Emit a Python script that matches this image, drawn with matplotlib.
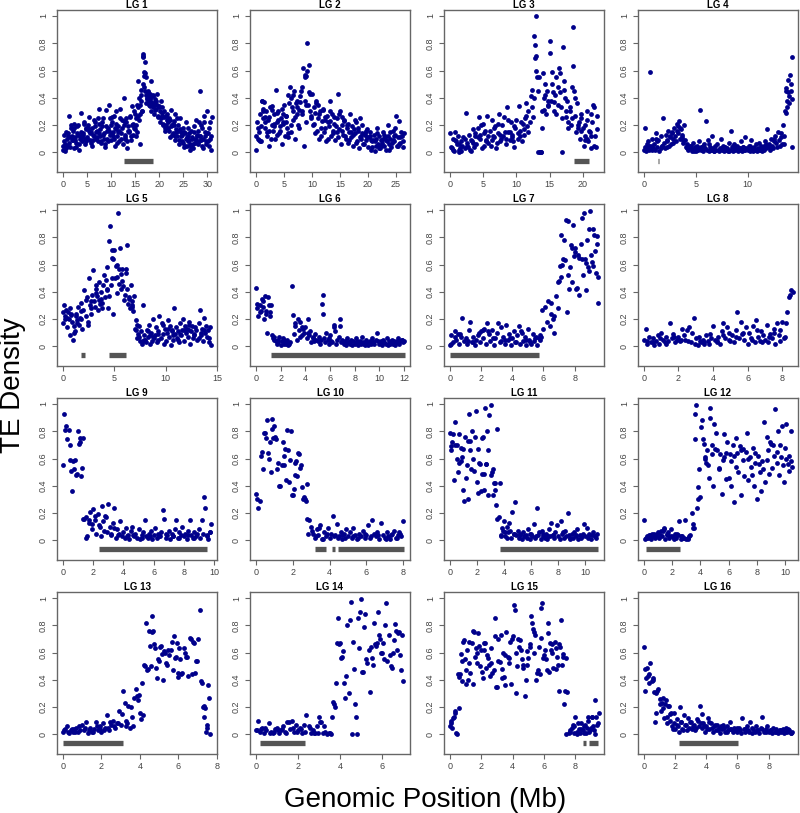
import matplotlib
matplotlib.use('Agg')
import matplotlib.pyplot as plt

plt.rcParams['font.family'] = ['Liberation Sans', 'DejaVu Sans']

# ---------------- data: window position (Mb) and TE density ----------------
lg1_pos = [0.0,0.2,0.4,0.6,0.8,1.0,1.2,1.4,1.6,1.8,
           2.0,2.2,2.4,2.6,2.8,3.0,3.2,3.4,3.6,3.8,
           4.0,4.2,4.4,4.6,4.8,5.0,5.2,5.4,5.6,5.8,
           6.0,6.2,6.4,6.6,6.8,7.0,7.2,7.4,7.6,7.8,
           8.0,8.2,8.4,8.6,8.8,9.0,9.2,9.4,9.6,9.8,
           10.0,10.2,10.4,10.6,10.8,11.0,11.2,11.4,11.6,11.8,
           12.0,12.2,12.4,12.6,12.8,13.0,13.2,13.4,13.6,13.8,
           14.0,14.2,14.4,14.6,14.8,15.0,15.2,15.4,15.6,15.8,
           16.0,16.2,16.4,16.6,16.8,17.0,17.2,17.4,17.6,17.8,
           18.0,18.2,18.4,18.6,18.8,19.0,19.2,19.4,19.6,19.8,
           20.0,20.2,20.4,20.6,20.8,21.0,21.2,21.4,21.6,21.8,
           22.0,22.2,22.4,22.6,22.8,23.0,23.2,23.4,23.6,23.8,
           24.0,24.2,24.4,24.6,24.8,25.0,25.2,25.4,25.6,25.8,
           26.0,26.2,26.4,26.6,26.8,27.0,27.2,27.4,27.6,27.8,
           28.0,28.2,28.4,28.6,28.8,29.0,29.2,29.4,29.6,29.8,
           30.0,30.2,30.4,30.6,30.8,
           16.6,16.7,16.9,17.1,17.3,16.5,17.5,17.7,18.1,18.3,
           18.7,19.1,19.5,15.7,16.1,16.3,12.9,13.5,14.5,15.1,
           10.5,11.1,8.5,6.5,4.5,2.5,0.5,1.5,3.5,5.5,
           7.5,9.5,11.5,20.5,21.5,22.5,23.5,24.5,25.5,26.5,
           27.5,28.5,29.5,30.5,
           0.1,0.3,0.7,0.9,1.1,1.3,1.7,1.9,
           2.1,2.3,2.7,2.9,3.1,3.3,3.7,3.9,
           4.1,4.3,4.7,4.9,5.1,5.3,5.7,5.9,
           6.1,6.3,6.7,6.9,7.1,7.3,7.7,7.9,
           8.1,8.3,8.7,8.9,9.1,9.3,9.7,9.9,
           10.1,10.3,10.7,10.9,11.1,11.3,11.7,11.9,
           12.1,12.3,12.7,12.9,13.1,13.3,13.7,13.9,
           14.1,14.3,14.7,14.9,15.1,15.3,15.7,15.9,
           16.1,16.3,16.7,16.9,17.1,17.3,17.7,17.9,
           18.1,18.3,18.7,18.9,19.1,19.3,19.7,19.9,
           20.1,20.3,20.7,20.9,21.1,21.3,21.7,21.9,
           22.1,22.3,22.7,22.9,23.1,23.3,23.7,23.9,
           24.1,24.3,24.7,24.9,25.1,25.3,25.7,25.9,
           26.1,26.3,26.7,26.9,27.1,27.3,27.7,27.9,
           28.1,28.3,28.7,28.9,29.1,29.3,29.7,29.9,
           30.1,30.3,30.7,30.9]
lg1_te = [.02,.08,.01,.15,.05,.12,.27,.04,.18,.09,
          .16,.03,.21,.11,.07,.19,.13,.02,.10,.29,
          .08,.14,.21,.06,.17,.11,.18,.26,.09,.15,
          .05,.13,.24,.19,.10,.16,.08,.32,.21,.12,
          .07,.19,.25,.14,.04,.31,.10,.18,.35,.13,
          .09,.22,.15,.27,.05,.30,.12,.19,.08,.32,
          .14,.24,.06,.20,.40,.11,.25,.03,.19,.15,
          .26,.09,.34,.21,.18,.28,.12,.35,.52,.24,
          .06,.46,.30,.72,.59,.66,.55,.40,.45,.38,
          .43,.34,.52,.36,.41,.28,.37,.32,.43,.26,
          .34,.22,.38,.29,.21,.30,.16,.27,.24,.18,
          .25,.11,.31,.20,.14,.23,.09,.28,.17,.12,
          .20,.06,.25,.15,.08,.18,.04,.14,.22,.05,
          .12,.09,.02,.16,.11,.03,.19,.07,.24,.13,
          .06,.22,.12,.45,.09,.18,.03,.27,.12,.08,
          .30,.14,.05,.22,.02,
          .71,.70,.56,.58,.42,.30,.39,.44,.40,.37,
          .33,.39,.35,.27,.35,.42,.10,.16,.13,.20,
          .12,.17,.10,.12,.10,.09,.06,.11,.12,.16,
          .14,.16,.15,.27,.20,.19,.15,.12,.10,.06,
          .10,.12,.15,.10,
          .05,.13,.03,.10,.14,.07,.20,.12,
          .09,.18,.04,.14,.20,.06,.15,.11,
          .13,.22,.08,.18,.10,.20,.14,.07,
          .18,.09,.22,.15,.11,.25,.17,.08,
          .22,.13,.06,.19,.16,.08,.25,.20,
          .14,.26,.10,.18,.21,.07,.16,.25,
          .10,.18,.23,.13,.22,.08,.16,.27,
          .12,.20,.30,.17,.25,.15,.33,.40,
          .28,.38,.50,.48,.45,.36,.41,.35,
          .39,.30,.42,.35,.31,.38,.27,.33,
          .30,.25,.33,.20,.26,.18,.28,.22,
          .16,.24,.13,.21,.20,.12,.25,.16,
          .09,.17,.13,.07,.15,.05,.11,.18,
          .08,.14,.04,.10,.06,.15,.09,.12,
          .16,.08,.20,.05,.10,.22,.06,.14,
          .08,.18,.12,.26]

lg2_pos = [0.0,0.2,0.4,0.6,0.8,1.0,1.2,1.4,1.6,1.8,
           2.0,2.2,2.4,2.6,2.8,3.0,3.2,3.4,3.6,3.8,
           4.0,4.2,4.4,4.6,4.8,5.0,5.2,5.4,5.6,5.8,
           6.0,6.2,6.4,6.6,6.8,7.0,7.2,7.4,7.6,7.8,
           8.0,8.2,8.4,8.6,8.8,9.0,9.2,9.4,9.6,9.8,
           10.0,10.2,10.4,10.6,10.8,11.0,11.2,11.4,11.6,11.8,
           12.0,12.2,12.4,12.6,12.8,13.0,13.2,13.4,13.6,13.8,
           14.0,14.2,14.4,14.6,14.8,15.0,15.2,15.4,15.6,15.8,
           16.0,16.2,16.4,16.6,16.8,17.0,17.2,17.4,17.6,17.8,
           18.0,18.2,18.4,18.6,18.8,19.0,19.2,19.4,19.6,19.8,
           20.0,20.2,20.4,20.6,20.8,21.0,21.2,21.4,21.6,21.8,
           22.0,22.2,22.4,22.6,22.8,23.0,23.2,23.4,23.6,23.8,
           24.0,24.2,24.4,24.6,24.8,25.0,25.2,25.4,25.6,25.8,
           26.0,26.2,26.4,
           0.1,0.5,0.9,1.1,1.3,1.7,2.3,2.9,3.3,4.3,
           4.9,5.3,6.3,6.7,7.3,7.7,8.3,8.7,8.9,9.1,
           9.5,10.5,11.1,12.3,13.3,14.5,15.3,16.5,17.5,18.5,
           19.5,20.5,21.5,22.5,23.5,24.5,25.5,26.3,3.7,5.7,
           0.3,0.7,0.9,1.3,1.7,1.9,2.3,2.7,2.9,3.3,3.7,3.9,
           4.3,4.7,4.9,5.3,5.7,5.9,6.3,6.7,6.9,7.3,7.7,7.9,
           8.3,8.7,8.9,9.3,9.7,9.9,10.3,10.7,10.9,11.3,11.7,11.9,
           12.3,12.7,12.9,13.3,13.7,13.9,14.3,14.7,14.9,15.3,15.7,15.9,
           16.3,16.7,16.9,17.3,17.7,17.9,18.3,18.7,18.9,19.3,19.7,19.9,
           20.3,20.7,20.9,21.3,21.7,21.9,22.3,22.7,22.9,23.3,23.7,23.9,
           24.3,24.7,24.9,25.3,25.7,25.9]
lg2_te = [.02,.22,.10,.15,.08,.38,.25,.37,.18,.30,
          .12,.24,.05,.33,.20,.16,.28,.10,.46,.22,
          .30,.14,.25,.06,.21,.35,.12,.27,.18,.42,
          .48,.15,.33,.24,.45,.10,.36,.28,.20,.37,
          .45,.30,.62,.05,.55,.35,.80,.64,.43,.27,
          .43,.20,.33,.14,.38,.25,.10,.30,.18,.23,
          .32,.15,.26,.08,.22,.19,.38,.12,.28,.16,
          .21,.09,.25,.43,.17,.30,.06,.20,.13,.24,
          .10,.18,.07,.15,.28,.11,.19,.05,.14,.22,
          .08,.16,.03,.25,.12,.20,.06,.14,.09,.17,
          .04,.11,.15,.02,.08,.13,.01,.10,.18,.06,
          .12,.03,.09,.15,.05,.11,.02,.08,.20,.06,
          .10,.04,.16,.08,.13,.27,.05,.11,.23,.07,
          .12,.04,.14,
          .12,.09,.19,.38,.32,.26,.16,.31,.21,.19,
          .28,.22,.40,.30,.38,.31,.48,.57,.56,.60,
          .44,.29,.35,.24,.30,.15,.26,.21,.17,.11,
          .13,.09,.05,.07,.12,.09,.06,.08,.13,.11,
          .18,.28,.08,.30,.22,.15,.26,.10,.34,.19,.29,.24,
          .16,.32,.22,.27,.14,.36,.20,.42,.26,.33,.18,.41,
          .28,.38,.22,.35,.30,.25,.21,.36,.16,.28,.12,.31,
          .18,.27,.10,.23,.14,.26,.19,.11,.28,.16,.23,.12,
          .20,.09,.15,.13,.24,.07,.18,.10,.14,.06,.16,.11,
          .12,.04,.09,.08,.14,.03,.05,.10,.13,.09,.02,.15,
          .07,.12,.18,.05,.11,.15]

lg3_pos = [0.0,0.2,0.4,0.6,0.8,1.0,1.2,1.4,1.6,1.8,
           2.0,2.2,2.4,2.6,2.8,3.0,3.2,3.4,3.6,3.8,
           4.0,4.2,4.4,4.6,4.8,5.0,5.2,5.4,5.6,5.8,
           6.0,6.2,6.4,6.6,6.8,7.0,7.2,7.4,7.6,7.8,
           8.0,8.2,8.4,8.6,8.8,9.0,9.2,9.4,9.6,9.8,
           10.0,10.2,10.4,10.6,10.8,11.0,11.2,11.4,11.6,11.8,
           12.0,12.2,12.4,12.6,12.8,13.0,13.2,13.4,13.6,13.8,
           14.0,14.2,14.4,14.6,14.8,15.0,15.2,15.4,15.6,15.8,
           16.0,16.2,16.4,16.6,16.8,17.0,17.2,17.4,17.6,17.8,
           18.0,18.2,18.4,18.6,18.8,19.0,19.2,19.4,19.6,19.8,
           20.0,20.2,20.4,20.6,20.8,21.0,21.2,21.4,21.6,21.8,
           22.0,22.2,
           0.5,0.9,1.3,1.5,2.5,3.1,3.5,4.5,5.1,5.5,
           6.5,7.1,7.5,8.5,9.1,9.5,10.5,11.1,11.5,12.5,
           12.8,12.9,13.0,13.1,13.5,13.7,13.9,14.1,14.3,14.7,
           15.1,15.5,15.9,16.5,16.9,17.1,17.5,18.1,18.5,18.9,
           19.3,19.7,20.3,20.7,21.1,21.3,21.7,22.1,
           0.3,0.7,1.3,1.7,2.3,2.7,3.3,3.7,4.3,4.7,
           5.3,5.7,6.3,6.7,7.3,7.7,8.3,8.7,9.3,9.7,
           10.3,10.7,11.3,11.7,12.3,12.7,13.3,13.7,14.3,14.7,
           15.3,15.7,16.3,16.7,17.3,17.7,18.3,18.7,19.3,19.7,
           20.3,20.7,21.3,21.7]
lg3_te = [.14,.04,.10,.01,.15,.06,.12,.02,.08,.05,
          .11,.03,.29,.07,.13,.02,.09,.17,.04,.12,
          .06,.18,.26,.10,.03,.21,.14,.08,.27,.12,
          .16,.05,.24,.11,.19,.03,.14,.28,.08,.20,
          .12,.26,.06,.33,.15,.09,.22,.13,.04,.18,
          .24,.10,.34,.16,.08,.21,.13,.27,.19,.30,
          .22,.41,.46,.85,.69,1.0,.00,.55,.00,.30,
          .58,.40,.28,.45,.34,.82,.38,.50,.30,.42,
          .55,.35,.62,.44,.25,.77,.46,.30,.38,.18,
          .33,.20,.48,.92,.27,.15,.36,.22,.10,.25,
          .18,.05,.12,.30,.08,.16,.03,.22,.35,.12,
          .04,.27,
          .02,.08,.00,.03,.05,.01,.07,.13,.05,.09,
          .12,.07,.13,.10,.15,.08,.12,.17,.36,.26,
          .79,.60,.71,.55,.00,.00,.18,.31,.50,.38,
          .73,.44,.28,.58,.00,.52,.26,.30,.63,.40,
          .20,.16,.20,.10,.15,.28,.05,.17,
          .03,.09,.06,.01,.10,.04,.08,.14,.11,.20,
          .16,.07,.09,.18,.21,.10,.15,.24,.11,.19,
          .14,.22,.25,.15,.33,.40,.45,.00,.42,.35,
          .59,.37,.48,.33,.40,.22,.25,.45,.18,.28,
          .09,.24,.12,.33]

lg4_pos = [0.0,0.1,0.2,0.3,0.4,0.5,0.6,0.7,0.8,0.9,
           1.0,1.1,1.2,1.3,1.4,1.5,1.6,1.7,1.8,1.9,
           2.0,2.1,2.2,2.3,2.4,2.5,2.6,2.7,2.8,2.9,
           3.0,3.1,3.2,3.3,3.4,3.5,3.6,3.7,3.8,3.9,
           4.0,4.1,4.2,4.3,4.4,4.5,4.6,4.7,4.8,4.9,
           5.0,5.1,5.2,5.3,5.4,5.5,5.6,5.7,5.8,5.9,
           6.0,6.1,6.2,6.3,6.4,6.5,6.6,6.7,6.8,6.9,
           7.0,7.1,7.2,7.3,7.4,7.5,7.6,7.7,7.8,7.9,
           8.0,8.1,8.2,8.3,8.4,8.5,8.6,8.7,8.8,8.9,
           9.0,9.1,9.2,9.3,9.4,9.5,9.6,9.7,9.8,9.9,
           10.0,10.1,10.2,10.3,10.4,10.5,10.6,10.7,10.8,10.9,
           11.0,11.1,11.2,11.3,11.4,11.5,11.6,11.7,11.8,11.9,
           12.0,12.1,12.2,12.3,12.4,12.5,12.6,12.7,12.8,12.9,
           13.0,13.1,13.2,13.3,13.4,13.5,13.6,13.7,13.8,13.9,
           14.0,14.1,14.2,14.3,
           0.15,0.45,0.75,1.15,1.65,2.25,2.55,2.85,3.15,3.45,
           3.65,4.15,4.55,13.75,13.85,13.95,14.05,14.15,14.25,14.3,
           13.55,12.55,11.55,10.55,9.55,8.55,7.55,6.55,5.55,4.85,
           0.25,0.75,1.25,1.75,2.25,2.75,3.25,3.75,4.25,4.75,
           5.25,5.75,6.25,6.75,7.25,7.75,8.25,8.75,9.25,9.75,
           10.25,10.75,11.25,11.75,12.25,12.75,13.25,13.75]
lg4_te = [.02,.18,.01,.03,.08,.02,.59,.05,.10,.03,
          .06,.02,.14,.04,.09,.01,.12,.05,.25,.07,
          .03,.13,.08,.16,.05,.11,.06,.14,.10,.18,
          .12,.08,.21,.14,.23,.10,.17,.13,.07,.20,
          .09,.04,.06,.02,.05,.03,.01,.07,.02,.04,
          .01,.05,.03,.08,.31,.02,.04,.01,.06,.03,
          .23,.02,.09,.01,.04,.02,.12,.03,.01,.05,
          .02,.06,.01,.03,.10,.02,.05,.01,.04,.02,
          .03,.01,.07,.02,.16,.04,.01,.06,.02,.03,
          .05,.01,.03,.02,.08,.01,.04,.02,.11,.03,
          .02,.05,.01,.09,.03,.01,.04,.02,.06,.01,
          .03,.07,.02,.05,.01,.04,.02,.08,.03,.17,
          .04,.06,.02,.10,.05,.03,.08,.12,.04,.15,
          .09,.05,.14,.06,.20,.12,.30,.47,.38,.53,
          .36,.57,.45,.70,
          .04,.05,.02,.10,.03,.04,.12,.07,.16,.18,
          .11,.03,.05,.29,.33,.44,.41,.50,.39,.04,
          .06,.10,.05,.03,.04,.05,.03,.02,.04,.01,
          .06,.04,.08,.05,.09,.15,.19,.09,.03,.02,
          .02,.05,.06,.01,.02,.04,.01,.03,.03,.02,
          .05,.02,.02,.06,.03,.07,.11,.45]

lg5_pos = [0.0,0.1,0.2,0.3,0.4,0.5,0.6,0.7,0.8,0.9,
           1.0,1.1,1.2,1.3,1.4,1.5,1.6,1.7,1.8,1.9,
           2.0,2.1,2.2,2.3,2.4,2.5,2.6,2.7,2.8,2.9,
           3.0,3.1,3.2,3.3,3.4,3.5,3.6,3.7,3.8,3.9,
           4.0,4.1,4.2,4.3,4.4,4.5,4.6,4.7,4.8,4.9,
           5.0,5.1,5.2,5.3,5.4,5.5,5.6,5.7,5.8,5.9,
           6.0,6.1,6.2,6.3,6.4,6.5,6.6,6.7,6.8,6.9,
           7.0,7.1,7.2,7.3,7.4,7.5,7.6,7.7,7.8,7.9,
           8.0,8.1,8.2,8.3,8.4,8.5,8.6,8.7,8.8,8.9,
           9.0,9.1,9.2,9.3,9.4,9.5,9.6,9.7,9.8,9.9,
           10.0,10.1,10.2,10.3,10.4,10.5,10.6,10.7,10.8,10.9,
           11.0,11.1,11.2,11.3,11.4,11.5,11.6,11.7,11.8,11.9,
           12.0,12.1,12.2,12.3,12.4,12.5,12.6,12.7,12.8,12.9,
           13.0,13.1,13.2,13.3,13.4,13.5,13.6,13.7,13.8,13.9,
           14.0,14.1,14.2,14.3,14.4,
           0.05,0.35,0.65,1.05,1.35,1.75,2.45,2.75,3.25,3.55,
           3.85,4.25,4.45,4.75,4.85,5.25,5.45,5.65,5.85,6.15,
           6.45,6.75,7.15,7.45,7.85,8.45,9.25,10.65,11.35,12.25,
           13.45,14.25,
           0.25,0.75,1.25,1.75,2.25,2.75,3.25,3.75,4.25,4.75,
           5.25,5.75,6.25,6.75,7.25,7.75,8.25,8.75,9.25,9.75,
           10.25,10.75,11.25,11.75,12.25,12.75,13.25,13.75]
lg5_te = [.17,.30,.22,.27,.14,.25,.20,.08,.23,.18,
          .05,.15,.11,.24,.19,.29,.16,.21,.32,.13,
          .27,.41,.22,.36,.18,.50,.30,.24,.38,.56,
          .33,.29,.42,.37,.27,.47,.31,.40,.28,.45,
          .52,.36,.49,.58,.28,.77,.88,.45,.65,.24,
          .71,.50,.59,.39,.98,.46,.72,.42,.57,.34,
          .38,.54,.74,.31,.36,.28,.45,.33,.26,.37,
          .13,.19,.06,.09,.15,.04,.11,.02,.30,.08,
          .05,.03,.12,.07,.16,.02,.10,.04,.20,.06,
          .08,.14,.03,.11,.22,.06,.17,.09,.02,.13,
          .04,.10,.19,.07,.15,.01,.12,.05,.28,.09,
          .14,.06,.11,.03,.17,.08,.12,.20,.04,.15,
          .10,.13,.07,.18,.02,.11,.15,.06,.09,.14,
          .12,.05,.17,.27,.08,.13,.04,.21,.10,.15,
          .07,.12,.03,.14,.01,
          .25,.21,.28,.10,.17,.20,.16,.33,.39,.34,
          .32,.42,.37,.71,.64,.51,.57,.53,.44,.57,
          .35,.30,.12,.07,.05,.08,.09,.11,.09,.12,
          .10,.06,
          .20,.24,.22,.26,.34,.28,.45,.35,.41,.50,
          .60,.48,.42,.29,.16,.04,.11,.07,.05,.16,
          .13,.08,.05,.12,.16,.08,.06,.12]

lg6_pos = [0.0,0.1,0.2,0.3,0.4,0.5,0.6,0.7,0.8,0.9,
           1.0,1.1,1.2,1.3,1.4,1.5,1.6,1.7,1.8,1.9,
           2.0,2.1,2.2,2.3,2.4,2.5,2.6,2.7,2.8,2.9,
           3.0,3.1,3.2,3.3,3.4,3.5,3.6,3.7,3.8,3.9,
           4.0,4.1,4.2,4.3,4.4,4.5,4.6,4.7,4.8,4.9,
           5.0,5.1,5.2,5.3,5.4,5.5,5.6,5.7,5.8,5.9,
           6.0,6.1,6.2,6.3,6.4,6.5,6.6,6.7,6.8,6.9,
           7.0,7.1,7.2,7.3,7.4,7.5,7.6,7.7,7.8,7.9,
           8.0,8.1,8.2,8.3,8.4,8.5,8.6,8.7,8.8,8.9,
           9.0,9.1,9.2,9.3,9.4,9.5,9.6,9.7,9.8,9.9,
           10.0,10.1,10.2,10.3,10.4,10.5,10.6,10.7,10.8,10.9,
           11.0,11.1,11.2,11.3,11.4,11.5,11.6,11.7,11.8,11.9,
           12.0,
           0.05,0.35,0.55,0.65,0.85,1.05,1.15,1.45,1.75,2.25,
           2.45,3.15,3.55,3.75,4.25,4.65,5.35,5.45,5.95,6.35,
           6.85,7.45,8.15,8.75,9.45,10.25,10.85,11.45,11.85]
lg6_te = [.43,.28,.22,.30,.26,.35,.29,.37,.24,.10,
          .36,.22,.30,.08,.06,.07,.04,.02,.05,.07,
          .01,.04,.06,.02,.03,.05,.01,.02,.03,.44,
          .23,.09,.15,.05,.20,.12,.18,.08,.13,.10,
          .14,.06,.20,.08,.11,.03,.06,.04,.09,.05,
          .04,.07,.02,.05,.38,.06,.03,.10,.05,.02,
          .08,.04,.03,.16,.11,.02,.05,.07,.20,.03,
          .05,.02,.04,.01,.06,.03,.02,.05,.01,.04,
          .02,.06,.03,.01,.04,.02,.07,.03,.01,.05,
          .03,.01,.04,.02,.06,.03,.02,.05,.10,.04,
          .02,.04,.01,.05,.03,.02,.06,.01,.04,.03,
          .05,.02,.04,.01,.03,.06,.02,.04,.05,.03,
          .04,
          .31,.25,.33,.20,.26,.30,.25,.05,.03,.05,
          .02,.17,.07,.14,.10,.07,.31,.24,.06,.14,
          .15,.03,.04,.02,.03,.03,.02,.04,.05]

lg7_pos = [0.0,0.1,0.2,0.3,0.4,0.5,0.6,0.7,0.8,0.9,
           1.0,1.1,1.2,1.3,1.4,1.5,1.6,1.7,1.8,1.9,
           2.0,2.1,2.2,2.3,2.4,2.5,2.6,2.7,2.8,2.9,
           3.0,3.1,3.2,3.3,3.4,3.5,3.6,3.7,3.8,3.9,
           4.0,4.1,4.2,4.3,4.4,4.5,4.6,4.7,4.8,4.9,
           5.0,5.1,5.2,5.3,5.4,5.5,5.6,5.7,5.8,5.9,
           6.0,6.1,6.2,6.3,6.4,6.5,6.6,6.7,6.8,6.9,
           7.0,7.1,7.2,7.3,7.4,7.5,7.6,7.7,7.8,7.9,
           8.0,8.1,8.2,8.3,8.4,8.5,8.6,8.7,8.8,8.9,
           9.0,9.1,9.2,9.3,9.4,9.5,
           0.05,0.35,0.65,1.15,1.45,1.85,2.15,2.45,2.75,3.25,
           3.55,3.85,4.25,4.55,4.85,5.15,5.45,5.75,5.85,6.45,
           6.65,6.95,7.05,7.15,7.25,7.45,7.55,7.65,7.75,7.85,
           7.95,8.05,8.15,8.25,8.45,8.55,8.65,8.75,8.85,8.95,
           9.05,9.15,9.25,9.35,9.45,9.5]
lg7_te = [.01,.08,.03,.11,.05,.09,.02,.07,.21,.04,
          .06,.02,.12,.18,.03,.07,.01,.05,.08,.03,
          .11,.06,.13,.02,.17,.09,.04,.12,.01,.06,
          .10,.17,.03,.14,.07,.02,.16,.05,.09,.01,
          .06,.11,.03,.08,.15,.02,.10,.04,.07,.01,
          .13,.05,.02,.09,.04,.07,.01,.06,.08,.27,
          .13,.29,.18,.33,.15,.24,.20,.10,.37,.28,
          .48,.82,.60,.78,.63,.25,.92,.58,.47,.89,
          .72,.42,.67,.38,.75,.64,.98,.41,.78,.55,
          .99,.62,.86,.70,.81,.32,
          .02,.07,.09,.04,.03,.10,.12,.11,.06,.04,
          .05,.06,.03,.11,.05,.03,.06,.05,.07,.32,
          .22,.47,.59,.51,.64,.93,.52,.42,.74,.72,
          .66,.69,.43,.65,.94,.52,.64,.61,.58,.86,
          .67,.59,.82,.54,.75,.51]

lg8_pos = [0.0,0.1,0.2,0.3,0.4,0.5,0.6,0.7,0.8,0.9,
           1.0,1.1,1.2,1.3,1.4,1.5,1.6,1.7,1.8,1.9,
           2.0,2.1,2.2,2.3,2.4,2.5,2.6,2.7,2.8,2.9,
           3.0,3.1,3.2,3.3,3.4,3.5,3.6,3.7,3.8,3.9,
           4.0,4.1,4.2,4.3,4.4,4.5,4.6,4.7,4.8,4.9,
           5.0,5.1,5.2,5.3,5.4,5.5,5.6,5.7,5.8,5.9,
           6.0,6.1,6.2,6.3,6.4,6.5,6.6,6.7,6.8,6.9,
           7.0,7.1,7.2,7.3,7.4,7.5,7.6,7.7,7.8,7.9,
           8.0,8.1,8.2,8.3,8.4,8.5,8.6,
           0.15,0.55,0.95,1.25,1.75,2.15,2.55,2.95,3.25,3.45,
           3.75,4.25,4.55,4.95,5.35,5.75,6.25,6.55,6.85,7.25,
           7.55,7.85,8.15,8.45]
lg8_te = [.05,.13,.02,.07,.03,.06,.01,.04,.08,.02,
          .10,.05,.03,.07,.04,.17,.06,.09,.03,.05,
          .07,.04,.13,.08,.05,.12,.14,.03,.10,.21,
          .06,.01,.07,.03,.05,.02,.08,.04,.09,.06,
          .15,.05,.03,.07,.02,.11,.17,.06,.14,.10,
          .04,.08,.03,.12,.25,.06,.18,.09,.05,.14,
          .02,.10,.06,.15,.03,.19,.07,.04,.11,.08,
          .05,.16,.03,.09,.06,.13,.02,.17,.08,.04,
          .18,.06,.17,.25,.36,.41,.40,
          .04,.03,.06,.02,.07,.05,.04,.02,.04,.03,
          .02,.04,.08,.05,.07,.10,.05,.12,.03,.07,
          .10,.12,.07,.38]

lg9_pos = [0.0,0.1,0.2,0.3,0.4,0.5,0.6,0.7,0.8,0.9,
           1.0,1.1,1.2,1.3,1.4,1.5,1.6,1.7,1.8,1.9,
           2.0,2.1,2.2,2.3,2.4,2.5,2.6,2.7,2.8,2.9,
           3.0,3.1,3.2,3.3,3.4,3.5,3.6,3.7,3.8,3.9,
           4.0,4.1,4.2,4.3,4.4,4.5,4.6,4.7,4.8,4.9,
           5.0,5.1,5.2,5.3,5.4,5.5,5.6,5.7,5.8,5.9,
           6.0,6.1,6.2,6.3,6.4,6.5,6.6,6.7,6.8,6.9,
           7.0,7.1,7.2,7.3,7.4,7.5,7.6,7.7,7.8,7.9,
           8.0,8.1,8.2,8.3,8.4,8.5,8.6,8.7,8.8,8.9,
           9.0,9.1,9.2,9.3,9.4,9.5,9.6,9.7,9.8,
           0.15,0.45,0.55,0.65,0.85,1.05,1.15,1.25,1.35,1.55,
           1.75,1.95,2.15,2.45,2.65,2.85,3.15,3.35,3.65,4.25,
           4.65,5.25,5.75,6.35,6.85,7.25,7.65,8.25,8.65,9.25,
           9.55,9.75]
lg9_te = [.55,.93,.84,.74,.81,.70,.36,.52,.59,.49,
          .80,.72,.47,.75,.16,.17,.03,.13,.21,.08,
          .23,.15,.05,.19,.11,.03,.25,.07,.18,.06,
          .27,.10,.04,.13,.24,.02,.08,.05,.14,.03,
          .06,.02,.09,.04,.01,.07,.10,.03,.05,.02,
          .08,.01,.04,.06,.15,.03,.02,.05,.07,.01,
          .04,.09,.02,.05,.03,.06,.22,.16,.02,.04,
          .07,.01,.05,.03,.08,.15,.02,.06,.04,.10,
          .03,.05,.01,.07,.15,.04,.02,.06,.03,.05,
          .08,.02,.15,.32,.24,.04,.01,.06,.12,
          .81,.59,.51,.58,.48,.71,.75,.53,.16,.02,
          .15,.12,.18,.10,.14,.17,.05,.09,.04,.03,
          .04,.02,.03,.03,.05,.03,.02,.04,.02,.05,
          .03,.06]

lg10_pos = [0.0,0.1,0.2,0.3,0.4,0.5,0.6,0.7,0.8,0.9,
            1.0,1.1,1.2,1.3,1.4,1.5,1.6,1.7,1.8,1.9,
            2.0,2.1,2.2,2.3,2.4,2.5,2.6,2.7,2.8,2.9,
            3.0,3.1,3.2,3.3,3.4,3.5,3.6,3.7,3.8,3.9,
            4.0,4.1,4.2,4.3,4.4,4.5,4.6,4.7,4.8,4.9,
            5.0,5.1,5.2,5.3,5.4,5.5,5.6,5.7,5.8,5.9,
            6.0,6.1,6.2,6.3,6.4,6.5,6.6,6.7,6.8,6.9,
            7.0,7.1,7.2,7.3,7.4,7.5,7.6,7.7,7.8,7.9,
            8.0,
            0.05,0.35,0.45,0.55,0.65,0.75,0.85,0.95,1.05,1.15,
            1.25,1.45,1.55,1.65,1.75,1.85,1.95,2.05,2.15,2.25,
            2.35,2.45,2.55,2.65,2.75,2.85,3.05,3.25,3.45,3.65,
            3.85,4.25,4.45,4.65,4.85,5.25,5.55,5.95,6.25,6.65,
            7.05,7.35,7.65,7.85]
lg10_te = [.34,.24,.29,.62,.52,.79,.88,.60,.50,.89,
           .84,.74,.57,.40,.55,.62,.67,.81,.43,.80,
           .33,.48,.58,.64,.53,.39,.32,.29,.41,.15,
           .10,.05,.02,.08,.04,.11,.01,.06,.03,.09,
           .02,.05,.18,.04,.12,.03,.06,.01,.05,.08,
           .03,.06,.02,.09,.04,.01,.05,.03,.07,.02,
           .04,.11,.02,.15,.05,.03,.06,.01,.13,.04,
           .02,.06,.03,.01,.05,.07,.02,.04,.06,.03,
           .14,
           .30,.65,.79,.75,.64,.72,.82,.75,.76,.52,
           .40,.72,.55,.44,.66,.59,.33,.38,.57,.47,
           .63,.55,.30,.30,.16,.05,.07,.03,.09,.01,
           .05,.03,.02,.04,.02,.03,.02,.05,.03,.04,
           .01,.04,.02,.05]

lg11_pos = [0.0,0.1,0.2,0.3,0.4,0.5,0.6,0.7,0.8,0.9,
            1.0,1.1,1.2,1.3,1.4,1.5,1.6,1.7,1.8,1.9,
            2.0,2.1,2.2,2.3,2.4,2.5,2.6,2.7,2.8,2.9,
            3.0,3.1,3.2,3.3,3.4,3.5,3.6,3.7,3.8,3.9,
            4.0,4.1,4.2,4.3,4.4,4.5,4.6,4.7,4.8,4.9,
            5.0,5.1,5.2,5.3,5.4,5.5,5.6,5.7,5.8,5.9,
            6.0,6.1,6.2,6.3,6.4,6.5,6.6,6.7,6.8,6.9,
            7.0,7.1,7.2,7.3,7.4,7.5,7.6,7.7,7.8,7.9,
            8.0,8.1,8.2,8.3,8.4,8.5,8.6,8.7,8.8,8.9,
            9.0,9.1,9.2,9.3,9.4,9.5,9.6,9.7,9.8,9.9,
            10.0,10.1,10.2,10.3,10.4,10.5,10.6,10.7,10.8,10.9,
            0.05,0.15,0.35,0.55,0.65,0.85,0.95,1.05,1.25,1.35,
            1.45,1.55,1.85,2.05,2.15,2.35,2.45,2.55,2.65,2.75,
            2.85,3.05,3.15,3.25,3.35,3.45,3.75,3.85,4.05,4.25,
            4.45,4.75,5.15,5.55,5.95,6.35,6.85,7.25,7.65,8.35,
            8.85,9.35,9.75,10.25,10.75]
lg11_te = [.79,.69,.78,.44,.87,.70,.50,.78,.68,.61,
           .37,.76,.46,.30,.93,.73,.80,.60,.51,.95,
           .43,.67,.56,.36,.75,.49,.97,.56,.66,.92,
           .99,.50,.33,.42,.26,.82,.17,.42,.04,.07,
           .14,.03,.10,.06,.13,.02,.21,.05,.28,.04,
           .07,.02,.05,.01,.06,.03,.04,.02,.08,.01,
           .05,.03,.12,.02,.24,.04,.06,.01,.07,.03,
           .02,.05,.01,.08,.03,.13,.04,.02,.06,.11,
           .03,.01,.14,.05,.02,.07,.03,.20,.04,.01,
           .05,.02,.06,.03,.08,.01,.04,.02,.05,.12,
           .03,.09,.02,.05,.01,.04,.06,.03,.02,.05,
           .66,.72,.70,.60,.57,.58,.67,.29,.55,.73,
           .66,.52,.76,.35,.57,.49,.76,.37,.56,.80,
           .33,.48,.52,.42,.37,.16,.03,.09,.06,.02,
           .07,.05,.04,.03,.05,.03,.05,.03,.04,.06,
           .02,.04,.03,.04,.03]

lg12_pos = [0.0,0.1,0.2,0.3,0.4,0.5,0.6,0.7,0.8,0.9,
            1.0,1.1,1.2,1.3,1.4,1.5,1.6,1.7,1.8,1.9,
            2.0,2.1,2.2,2.3,2.4,2.5,2.6,2.7,2.8,2.9,
            3.0,3.1,3.2,3.3,3.4,3.5,3.6,3.7,3.8,3.9,
            4.0,4.1,4.2,4.3,4.4,4.5,4.6,4.7,4.8,4.9,
            5.0,5.1,5.2,5.3,5.4,5.5,5.6,5.7,5.8,5.9,
            6.0,6.1,6.2,6.3,6.4,6.5,6.6,6.7,6.8,6.9,
            7.0,7.1,7.2,7.3,7.4,7.5,7.6,7.7,7.8,7.9,
            8.0,8.1,8.2,8.3,8.4,8.5,8.6,8.7,8.8,8.9,
            9.0,9.1,9.2,9.3,9.4,9.5,9.6,9.7,9.8,9.9,
            10.0,10.1,10.2,10.3,10.4,10.5,
            0.15,0.35,0.55,0.75,0.95,1.15,1.35,1.45,1.65,1.85,
            2.15,2.35,2.65,2.85,3.15,3.45,3.55,3.65,3.75,3.85,
            4.05,4.25,4.35,4.55,4.65,4.85,5.05,5.35,5.65,5.85,
            6.15,6.35,6.55,6.85,7.05,7.35,7.65,7.85,8.15,8.45,
            8.75,8.95,9.15,9.45,9.65,9.85,10.05,10.25,10.45]
lg12_te = [.15,.01,.03,.02,.04,.01,.03,.05,.02,.04,
           .06,.02,.07,.03,.09,.01,.04,.06,.02,.08,
           .03,.01,.05,.02,.04,.14,.01,.03,.02,.15,
           .01,.02,.03,.04,.20,.12,.93,.99,.39,.52,
           .32,.88,.74,.61,.57,.66,.46,.97,.63,.40,
           .85,.79,.66,.52,.63,.34,.59,.78,.45,.72,
           .46,.63,.58,.70,.28,.75,.64,.50,.69,.33,
           .59,.47,.65,.79,.44,.61,.54,.68,.40,.57,
           .30,.62,.50,.36,.58,.87,.43,.76,.66,.49,
           .71,.53,.62,.96,.57,.80,.48,.61,.84,.43,
           .68,.85,.56,.51,.80,.54,
           .02,.04,.05,.03,.05,.04,.07,.08,.05,.03,
           .02,.05,.03,.02,.01,.09,.09,.74,.24,.30,
           .83,.71,.60,.55,.90,.70,.67,.53,.61,.64,
           .40,.62,.54,.66,.67,.60,.48,.64,.56,.52,
           .59,.72,.70,.65,.70,.55,.60,.62,.58]

lg13_pos = [0.0,0.1,0.2,0.3,0.4,0.5,0.6,0.7,0.8,0.9,
            1.0,1.1,1.2,1.3,1.4,1.5,1.6,1.7,1.8,1.9,
            2.0,2.1,2.2,2.3,2.4,2.5,2.6,2.7,2.8,2.9,
            3.0,3.1,3.2,3.3,3.4,3.5,3.6,3.7,3.8,3.9,
            4.0,4.1,4.2,4.3,4.4,4.5,4.6,4.7,4.8,4.9,
            5.0,5.1,5.2,5.3,5.4,5.5,5.6,5.7,5.8,5.9,
            6.0,6.1,6.2,6.3,6.4,6.5,6.6,6.7,6.8,6.9,
            7.0,7.1,7.2,7.3,7.4,7.5,7.6,
            0.05,0.25,0.45,0.65,0.85,1.15,1.35,1.55,1.75,1.95,
            2.15,2.35,2.45,2.65,2.85,3.05,3.25,3.35,3.55,3.65,
            3.85,3.95,4.05,4.15,4.25,4.35,4.45,4.55,4.65,4.75,
            4.85,4.95,5.05,5.15,5.25,5.35,5.45,5.65,5.75,5.85,
            5.95,6.05,6.15,6.35,6.45,6.65,6.75,6.85,6.95,7.15,
            7.25,7.35,7.45,7.55,7.65,7.5]
lg13_te = [.02,.04,.06,.01,.03,.02,.04,.05,.02,.03,
           .07,.03,.09,.01,.05,.02,.04,.09,.03,.06,
           .02,.08,.05,.14,.03,.07,.10,.05,.08,.17,
           .07,.32,.23,.10,.21,.05,.13,.27,.33,.25,
           .16,.38,.51,.82,.48,.65,.87,.76,.63,.41,
           .54,.65,.40,.60,.51,.58,.62,.47,.56,.67,
           .42,.55,.45,.63,.57,.43,.71,.44,.67,.54,
           .70,.91,.38,.21,.19,.05,.27,
           .03,.02,.04,.02,.06,.05,.03,.02,.06,.04,
           .03,.05,.09,.06,.08,.15,.06,.08,.20,.06,
           .28,.29,.11,.14,.50,.47,.76,.50,.75,.66,
           .49,.55,.64,.59,.61,.52,.62,.68,.72,.57,
           .45,.63,.44,.60,.57,.70,.68,.45,.54,.39,
           .20,.13,.02,.36,.00,.07]

lg14_pos = [0.0,0.1,0.2,0.3,0.4,0.5,0.6,0.7,0.8,0.9,
            1.0,1.1,1.2,1.3,1.4,1.5,1.6,1.7,1.8,1.9,
            2.0,2.1,2.2,2.3,2.4,2.5,2.6,2.7,2.8,2.9,
            3.0,3.1,3.2,3.3,3.4,3.5,3.6,3.7,3.8,3.9,
            4.0,4.1,4.2,4.3,4.4,4.5,4.6,4.7,4.8,4.9,
            5.0,5.1,5.2,5.3,5.4,5.5,5.6,5.7,5.8,5.9,
            6.0,6.1,6.2,6.3,6.4,6.5,6.6,6.7,6.8,6.9,
            7.0,
            0.05,0.25,0.45,0.65,0.85,1.05,1.25,1.45,1.55,1.75,
            1.95,2.15,2.35,2.55,2.75,2.95,3.05,3.25,3.45,3.55,
            3.65,3.75,3.85,3.95,4.05,4.15,4.25,4.35,4.45,4.55,
            4.65,4.75,4.85,4.95,5.05,5.15,5.25,5.35,5.45,5.55,
            5.65,5.75,5.85,5.95,6.05,6.15,6.25,6.35,6.45,6.55,
            6.65,6.75,6.85,6.95]
lg14_te = [.03,.10,.02,.05,.01,.03,.08,.02,.01,.04,
           .05,.01,.03,.06,.02,.09,.04,.10,.02,.07,
           .03,.05,.01,.07,.14,.06,.01,.03,.01,.06,
           .13,.09,.01,.02,.00,.01,.13,.22,.38,.85,
           .67,.57,.38,.43,.30,.97,.68,.22,.00,.63,
           .99,.46,.88,.52,.31,.56,.82,.65,.90,.70,
           .60,.55,.96,.73,.50,.60,.81,.62,.75,.47,
           .39,
           .03,.04,.05,.01,.02,.03,.04,.01,.09,.05,
           .02,.04,.02,.05,.01,.01,.09,.06,.01,.00,
           .24,.20,.67,.66,.56,.61,.27,.80,.84,.00,
           .48,.13,.85,.90,.46,.79,.55,.62,.64,.51,
           .66,.67,.73,.60,.67,.80,.54,.58,.49,.69,
           .76,.74,.58,.73]

lg15_pos = [0.0,0.1,0.2,0.3,0.4,0.5,0.6,0.7,0.8,0.9,
            1.0,1.1,1.2,1.3,1.4,1.5,1.6,1.7,1.8,1.9,
            2.0,2.1,2.2,2.3,2.4,2.5,2.6,2.7,2.8,2.9,
            3.0,3.1,3.2,3.3,3.4,3.5,3.6,3.7,3.8,3.9,
            4.0,4.1,4.2,4.3,4.4,4.5,4.6,4.7,4.8,4.9,
            5.0,5.1,5.2,5.3,5.4,5.5,5.6,5.7,5.8,5.9,
            6.0,6.1,6.2,6.3,6.4,6.5,6.6,6.7,6.8,6.9,
            7.0,7.1,7.2,7.3,7.4,7.5,7.6,7.7,7.8,7.9,
            8.0,8.1,8.2,8.3,8.4,8.5,8.6,8.7,8.8,8.9,
            9.0,9.1,9.2,9.3,9.4,9.5,
            0.05,0.15,0.25,0.35,0.45,0.55,0.65,0.75,0.85,0.95,
            1.05,1.15,1.25,1.45,1.55,1.65,1.75,1.85,2.05,2.15,
            2.25,2.45,2.55,2.65,2.85,2.95,3.05,3.25,3.35,3.45,
            3.55,3.75,3.85,3.95,4.15,4.25,4.35,4.55,4.65,4.85,
            4.95,5.15,5.25,5.35,5.45,5.55,5.75,5.85,5.95,6.15,
            6.25,6.35,6.45,6.55,6.75,6.85,6.95,7.05,7.15,7.25,
            7.35,7.45,7.65,7.85,7.95,8.15,8.25,8.35,8.55,8.65,
            8.75,8.85,8.95,9.05,9.15,9.25,9.35,9.45]
lg15_te = [.06,.08,.12,.16,.01,.44,.42,.59,.54,.69,
           .37,.62,.52,.45,.67,.76,.57,.60,.74,.50,
           .62,.41,.67,.49,.58,.51,.63,.45,.47,.85,
           .35,.70,.53,.41,.60,.36,.75,.57,.52,.37,
           .72,.95,.30,.50,.64,.69,.55,.49,.28,.51,
           .56,.66,.87,.77,.60,.40,.47,.64,.71,.96,
           .58,.62,.47,.82,.67,.60,.49,.68,.63,.51,
           .32,.84,.59,.22,.56,.31,.01,.03,.05,.01,
           .13,.02,.08,.01,.04,.03,.06,.01,.10,.02,
           .05,.13,.03,.25,.07,.16,
           .10,.05,.13,.17,.00,.19,.44,.39,.68,.55,
           .47,.40,.68,.37,.75,.63,.52,.65,.46,.62,
           .67,.56,.43,.52,.72,.35,.54,.73,.48,.42,
           .58,.56,.68,.70,.91,.60,.70,.62,.51,.40,
           .61,.64,.82,.75,.73,.45,.44,.93,.56,.55,
           .74,.46,.62,.66,.48,.57,.66,.64,.51,.57,
           .32,.00,.02,.07,.06,.00,.04,.08,.01,.07,
           .05,.13,.03,.13,.06,.00,.13,.08]

lg16_pos = [0.0,0.1,0.2,0.3,0.4,0.5,0.6,0.7,0.8,0.9,
            1.0,1.1,1.2,1.3,1.4,1.5,1.6,1.7,1.8,1.9,
            2.0,2.1,2.2,2.3,2.4,2.5,2.6,2.7,2.8,2.9,
            3.0,3.1,3.2,3.3,3.4,3.5,3.6,3.7,3.8,3.9,
            4.0,4.1,4.2,4.3,4.4,4.5,4.6,4.7,4.8,4.9,
            5.0,5.1,5.2,5.3,5.4,5.5,5.6,5.7,5.8,5.9,
            6.0,6.1,6.2,6.3,6.4,6.5,6.6,6.7,6.8,6.9,
            7.0,7.1,7.2,7.3,7.4,7.5,7.6,7.7,7.8,7.9,
            8.0,8.1,8.2,8.3,8.4,8.5,8.6,8.7,8.8,8.9,
            9.0,9.1,9.2,9.3,9.4,9.5,
            0.05,0.15,0.25,0.35,0.55,0.65,0.75,0.85,1.05,1.15,
            1.25,1.35,1.45,1.55,1.65,1.75,1.85,1.95,2.15,2.25,
            2.35,2.45,2.65,2.75,2.95,3.15,3.35,3.45,3.65,3.75,
            3.85,4.05,4.15,4.35,4.55,4.75,4.95,5.15,5.35,5.55,
            5.75,5.95,6.15,6.45,6.75,6.95,7.25,7.55,7.85,8.15,
            8.45,8.75,9.05,9.25,9.45]
lg16_te = [.64,.32,.49,.44,.52,.39,.41,.09,.30,.33,
           .26,.17,.27,.12,.25,.08,.21,.15,.06,.16,
           .04,.11,.06,.20,.09,.03,.14,.07,.12,.05,
           .09,.04,.07,.03,.11,.06,.21,.05,.08,.02,
           .06,.12,.04,.08,.02,.06,.03,.07,.05,.01,
           .04,.07,.02,.06,.03,.09,.04,.02,.05,.03,
           .02,.05,.01,.12,.04,.02,.06,.03,.09,.01,
           .04,.02,.06,.03,.01,.05,.13,.02,.04,.06,
           .02,.03,.01,.05,.02,.04,.01,.03,.02,.04,
           .01,.05,.02,.03,.01,.02,
           .48,.41,.43,.38,.40,.31,.16,.32,.22,.23,
           .19,.22,.13,.21,.10,.16,.04,.08,.07,.02,
           .09,.04,.07,.03,.09,.06,.05,.10,.08,.15,
           .06,.04,.09,.05,.07,.03,.06,.05,.02,.04,
           .03,.05,.03,.04,.02,.05,.03,.04,.02,.03,
           .02,.03,.02,.04,.01]

lg_names = ['LG 1', 'LG 2', 'LG 3', 'LG 4', 'LG 5', 'LG 6', 'LG 7', 'LG 8',
            'LG 9', 'LG 10', 'LG 11', 'LG 12', 'LG 13', 'LG 14', 'LG 15', 'LG 16']
lg_length_mb = [30.8, 26.45, 22.3, 14.3, 14.4, 12.0, 9.5, 8.57,
                9.8, 8.05, 10.95, 10.5, 7.67, 7.04, 9.47, 9.5]
lg_xticks = [[0, 5, 10, 15, 20, 25, 30], [0, 5, 10, 15, 20, 25], [0, 5, 10, 15, 20],
             [0, 5, 10], [0, 5, 10, 15], [0, 2, 4, 6, 8, 10, 12], [0, 2, 4, 6, 8],
             [0, 2, 4, 6, 8], [0, 2, 4, 6, 8, 10], [0, 2, 4, 6, 8], [0, 2, 4, 6, 8, 10],
             [0, 2, 4, 6, 8, 10], [0, 2, 4, 6, 8], [0, 2, 4, 6], [0, 2, 4, 6, 8],
             [0, 2, 4, 6, 8]]
# low-TE regions (start, end in Mb) drawn as grey bars
lg_regions = [[(12.75, 18.8), (29.85, 29.95)], [(3.57, 3.63)], [(18.7, 20.9)], [(1.38, 1.46)],
              [(1.75, 2.17), (4.44, 6.16)], [(1.21, 12.06)], [(0.0, 5.71)], [],
              [(2.4, 9.56)], [(3.19, 3.82), (4.15, 4.32), (4.45, 8.05)], [(3.68, 10.98)],
              [(0.12, 2.53)], [(0.0, 3.12)], [(0.2, 2.33)], [(8.51, 8.68), (8.87, 9.45)],
              [(2.23, 6.04)]]

lg_pos = [lg1_pos, lg2_pos, lg3_pos, lg4_pos, lg5_pos, lg6_pos, lg7_pos, lg8_pos,
          lg9_pos, lg10_pos, lg11_pos, lg12_pos, lg13_pos, lg14_pos, lg15_pos, lg16_pos]
lg_te = [lg1_te, lg2_te, lg3_te, lg4_te, lg5_te, lg6_te, lg7_te, lg8_te,
         lg9_te, lg10_te, lg11_te, lg12_te, lg13_te, lg14_te, lg15_te, lg16_te]

for i, (p, t) in enumerate(zip(lg_pos, lg_te)):
    if len(p) != len(t):
        raise ValueError(f'{lg_names[i]}: {len(p)} positions vs {len(t)} values')

# ---------------- layout ----------------
W, H = 800, 813
col_left = [57, 250, 444, 638]
row_top = [10, 204, 398, 592]
ax_w, ax_h = 160, 162

fig = plt.figure(figsize=(W / 100, H / 100), dpi=100)

for i in range(16):
    r, c = divmod(i, 4)
    ax = fig.add_axes([col_left[c] / W, 1 - (row_top[r] + ax_h) / H, ax_w / W, ax_h / H])
    ax.scatter(lg_pos[i], lg_te[i], s=12, c='#00008B', linewidths=0, zorder=3)
    for (a, b) in lg_regions[i]:
        ax.plot([a, b], [-0.065, -0.065], color='#555555', lw=3.8,
                solid_capstyle='butt', zorder=2)
    L = lg_length_mb[i]
    ax.set_xlim(-0.04 * L, 1.04 * L)
    ax.set_ylim(-0.144, 1.044)
    ax.set_xticks(lg_xticks[i])
    ax.set_xticklabels([str(v) for v in lg_xticks[i]])
    ax.set_yticks([0, 0.2, 0.4, 0.6, 0.8, 1.0])
    ax.set_yticklabels(['0', '0.2', '0.4', '0.6', '0.8', '1'], rotation=90, va='center')
    ax.tick_params(length=3.6, width=0.8, color='#666666', labelsize=6.5,
                   labelcolor='#444444')
    ax.tick_params(axis='x', pad=2)
    ax.tick_params(axis='y', pad=3)
    for sp in ax.spines.values():
        sp.set_color('#666666')
        sp.set_linewidth(1.0)
    ax.set_title(lg_names[i], fontsize=7, fontweight='bold', pad=1.2)

fig.text(13 / W, 1 - 385 / H, 'TE Density', rotation=90, fontsize=20,
         ha='center', va='center')
fig.text(425 / W, 1 - 800 / H, 'Genomic Position (Mb)', fontsize=20,
         ha='center', va='center')

fig.savefig('out.png', dpi=100)
